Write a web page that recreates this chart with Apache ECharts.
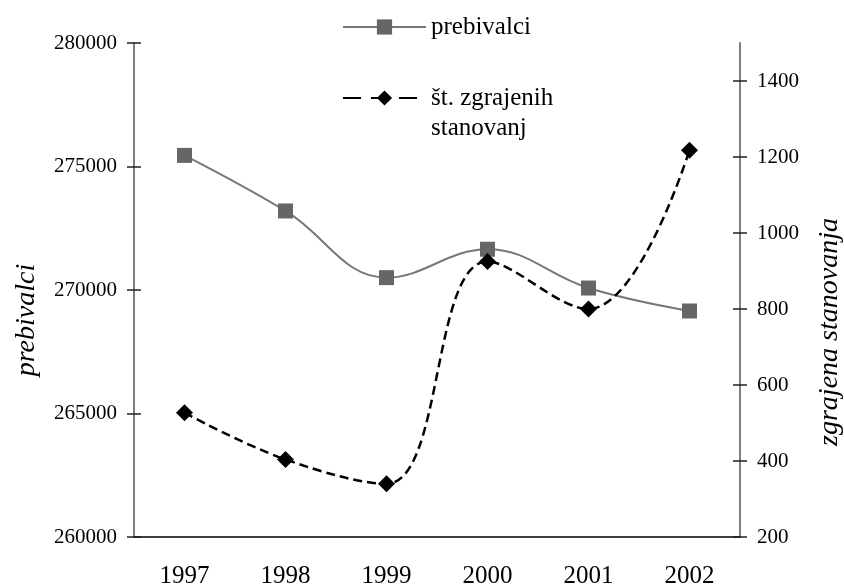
<!DOCTYPE html>
<html>
<head>
<meta charset="utf-8">
<script src="https://cdn.jsdelivr.net/npm/echarts@6/dist/echarts.min.js"></script>
<style>
  html, body { margin: 0; padding: 0; background: #fff; }
  #chart { width: 844px; height: 587px; }
</style>
</head>
<body>
<div id="chart"></div>
<script>
// values
var years = ['1997', '1998', '1999', '2000', '2001', '2002'];
var prebivalci = [275450, 273200, 270500, 271650, 270080, 269150];
var stanovanja = [527, 404, 340, 925, 800, 1218];
var rightTicks = [200, 400, 600, 800, 1000, 1200, 1400];

var FONT = 'Liberation Serif';
var nameA = 'prebivalci';
var nameB = 'št. zgrajenih\nstanovanj';

var chart = echarts.init(document.getElementById('chart'));

function plain(v) { return String(v); }

function leftAxis(inside) {
  return {
    type: 'value', position: 'left',
    min: 260000, max: 280000, interval: 5000,
    axisLine: { show: !inside, lineStyle: { color: '#808080', width: 2 } },
    axisTick: { show: true, inside: inside, length: 7, lineStyle: { color: '#222', width: 1.5 } },
    axisLabel: { show: !inside, margin: 17, formatter: plain,
      color: '#000', fontFamily: FONT, fontSize: 21 },
    splitLine: { show: false }
  };
}

function rightAxis(inside) {
  return {
    type: 'value', position: 'right',
    min: 200, max: 1500, interval: 200,
    axisLine: { show: !inside, lineStyle: { color: '#808080', width: 2 } },
    axisTick: { show: true, inside: inside, length: 7, customValues: rightTicks,
      lineStyle: { color: '#222', width: 1.5 } },
    axisLabel: { show: !inside, margin: 17, customValues: rightTicks, formatter: plain,
      color: '#000', fontFamily: FONT, fontSize: 21 },
    splitLine: { show: false }
  };
}

var option = {
  backgroundColor: '#fff',
  animation: false,
  grid: { left: 134, right: 104, top: 43, bottom: 50, outerBoundsMode: 'none', containLabel: false },
  legend: {
    orient: 'vertical',
    left: 342, top: 12,
    padding: 0,
    itemWidth: 83, itemHeight: 19, itemGap: 11,
    textStyle: { color: '#000', fontFamily: FONT, fontSize: 25, lineHeight: 30 },
    // blank first line keeps the icon level with "št. zgrajenih"
    formatter: function (name) { return name === nameB ? '\n' + name : name; },
    data: [
      { name: nameA },
      { name: nameB, lineStyle: { type: [18, 10] } }
    ]
  },
  xAxis: [{
    type: 'category', position: 'bottom', data: years, boundaryGap: true,
    axisLine: { lineStyle: { color: '#000', width: 1.5 } },
    axisTick: { interval: 0, length: 8, lineStyle: { color: '#222', width: 1.5 } },
    axisLabel: { margin: 27, color: '#000', fontFamily: FONT, fontSize: 25 }
  }, {
    type: 'category', position: 'bottom', data: years, boundaryGap: true,
    axisLine: { show: false },
    axisTick: { interval: 0, inside: true, length: 9, lineStyle: { color: '#222', width: 1.5 } },
    axisLabel: { show: false }
  }],
  yAxis: [leftAxis(false), rightAxis(false), leftAxis(true), rightAxis(true)],
  graphic: [{
    type: 'text', x: 27, y: 320, rotation: Math.PI / 2,
    style: { text: 'prebivalci', fill: '#000', font: 'italic 28px "Liberation Serif"',
      textAlign: 'center', textVerticalAlign: 'middle' }
  }, {
    type: 'text', x: 830, y: 332, rotation: Math.PI / 2,
    style: { text: 'zgrajena stanovanja', fill: '#000', font: 'italic 28px "Liberation Serif"',
      textAlign: 'center', textVerticalAlign: 'middle' }
  }],
  series: [{
    name: nameA, type: 'line', yAxisIndex: 0, data: prebivalci,
    smooth: 0.4,
    symbol: 'rect', symbolSize: 15,
    lineStyle: { color: '#777', width: 2 },
    itemStyle: { color: '#666' },
    z: 3
  }, {
    name: nameB, type: 'line', yAxisIndex: 1, data: stanovanja,
    smooth: 0.4,
    symbol: 'diamond', symbolSize: 17,
    lineStyle: { color: '#000', width: 2.5, type: [9, 5] },
    itemStyle: { color: '#000' },
    z: 4
  }]
};

chart.setOption(option);
</script>
</body>
</html>
